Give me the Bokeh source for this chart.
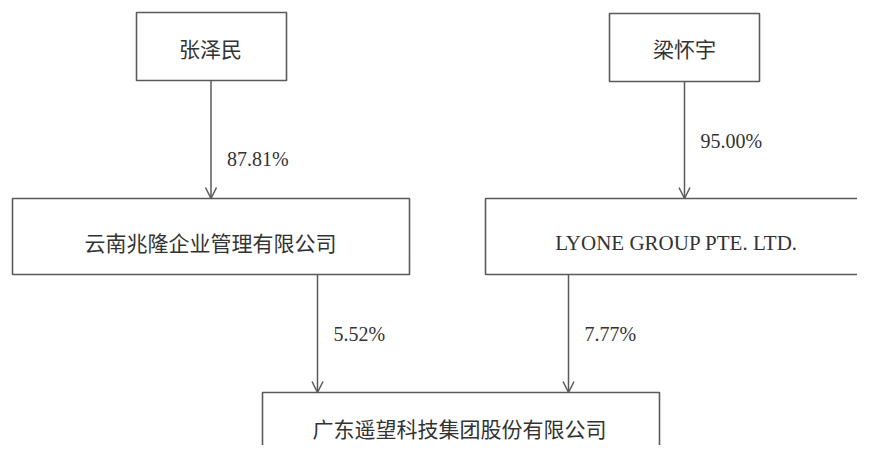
from bokeh.plotting import figure
from bokeh.models import Arrow, OpenHead
from bokeh.core.properties import value
from bokeh.embed import file_html
from bokeh.resources import INLINE

# ---- data ----
node_names = ["张泽民", "梁怀宇", "云南兆隆企业管理有限公司", "LYONE GROUP PTE. LTD.", "广东遥望科技集团股份有限公司"]
edge_from = ["张泽民", "梁怀宇", "云南兆隆企业管理有限公司", "LYONE GROUP PTE. LTD."]
edge_to = ["云南兆隆企业管理有限公司", "LYONE GROUP PTE. LTD.", "广东遥望科技集团股份有限公司", "广东遥望科技集团股份有限公司"]
edge_pct = ["87.81%", "95.00%", "5.52%", "7.77%"]

# ---- layout (pixel coordinates of the drawing) ----
box_left = [136, 609, 12, 485, 262]
box_right = [286, 759, 409, 900, 659]
box_top = [12, 13, 198, 198, 392]
box_bottom = [80, 81, 274, 274, 490]
text_x = [210, 684, 210, 676, 459]
text_y = [47, 47, 241, 242, 427]
edge_x = [210.5, 684, 317, 568]
label_y = [158, 140, 333, 333]

LINE = "#5a5a5a"
TEXT = "#333333"

p = figure(width=857, height=445, x_range=(0, 857), y_range=(445, 0),
           output_backend="svg", toolbar_location=None, min_border=0)
p.axis.visible = False
p.grid.visible = False
p.outline_line_color = None
p.background_fill_color = "white"

p.quad(left=box_left, right=box_right, top=box_top, bottom=box_bottom,
       fill_color="white", line_color=LINE, line_width=1.6)

idx = {n: i for i, n in enumerate(node_names)}
for f, t, x in zip(edge_from, edge_to, edge_x):
    y0 = box_bottom[idx[f]]
    y1 = box_top[idx[t]]
    p.add_layout(Arrow(end=OpenHead(size=11, line_color=LINE, line_width=1.5),
                       x_start=x, y_start=y0, x_end=x, y_end=y1,
                       line_color=LINE, line_width=1.5))

cjk = [i for i, n in enumerate(node_names) if not n.isascii()]
lat = [i for i, n in enumerate(node_names) if n.isascii()]
p.text(x=[text_x[i] for i in cjk], y=[text_y[i] for i in cjk], text=[node_names[i] for i in cjk],
       text_align="center", text_baseline="middle", text_font=value("Noto Sans CJK SC"),
       text_font_size="21px", text_color=TEXT)
p.text(x=[text_x[i] for i in lat], y=[text_y[i] for i in lat], text=[node_names[i] for i in lat],
       text_align="center", text_baseline="middle", text_font=value("Liberation Serif"),
       text_font_size="21px", text_color=TEXT)

p.text(x=[x + 16 for x in edge_x], y=label_y, text=edge_pct,
       text_align="left", text_baseline="middle", text_font=value("Liberation Serif"),
       text_font_size="20px", text_color=TEXT)

open("out.html", "w").write(file_html(p, INLINE))
